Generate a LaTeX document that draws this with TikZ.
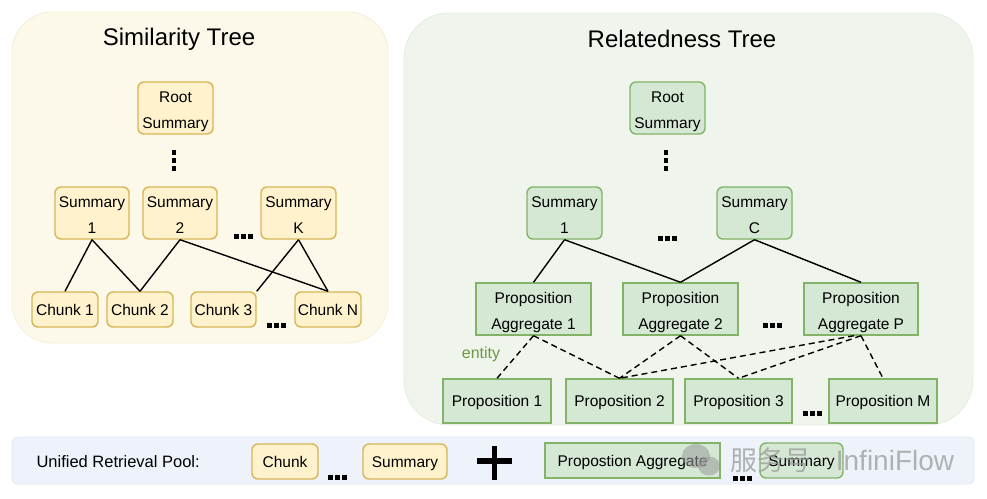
\documentclass[tikz,border=0pt]{standalone}
\usepackage{fontspec}
\setmainfont{Liberation Sans}
\newfontfamily\cjkfont{Noto Sans CJK SC}
\definecolor{yfill}{HTML}{FFF2CC}
\definecolor{ybord}{HTML}{D6B656}
\definecolor{gfill}{HTML}{D5E8D4}
\definecolor{gbord}{HTML}{82B366}
\definecolor{lpanel}{HTML}{FDF9EA}
\definecolor{lpanelb}{HTML}{F6EED6}
\definecolor{rpanel}{HTML}{EFF5EC}
\definecolor{rpanelb}{HTML}{E4EDE0}
\definecolor{pool}{HTML}{EEF3FB}
\definecolor{poolb}{HTML}{E2E9F4}
\definecolor{entitygreen}{HTML}{6A9A40}
\definecolor{wmgray}{HTML}{9A9A9A}
\newcommand\hdotsat[2]{\foreach \k in {-1,0,1} {\fill ({#1+\k*7-2.5},{#2-2.5}) rectangle ++(5,5);}}
\newcommand\vdotsat[2]{\foreach \k in {-1,0,1} {\fill ({#1-2.2},{#2+\k*8-2.5}) rectangle ++(4.4,5);}}
\newcommand\twoline[2]{\rule{0pt}{19pt}#1\\#2\rule[-4pt]{0pt}{4pt}}
\tikzset{
  nodefont/.style={font=\fontsize{15.5}{26}\selectfont},
  base/.style={nodefont, align=center, inner sep=0pt, line width=1.4pt},
  ybox/.style={base, draw=ybord, fill=yfill, rounded corners=6pt},
  gbox/.style={base, draw=gbord, fill=gfill, rounded corners=6pt},
  gsq/.style={base, draw=gbord, fill=gfill},
  oneline/.style={text height=11pt, text depth=0pt},
  tline/.style={line width=1.4pt, draw=black},
  dline/.style={line width=1.4pt, draw=black, dash pattern=on 6pt off 4pt},
  title/.style={font=\fontsize{24}{28}\selectfont},
}
\begin{document}
\begin{tikzpicture}[x=1pt,y=-1pt]
\useasboundingbox (0,0) rectangle (987,498);
% panels
\filldraw[fill=lpanel, draw=lpanelb, line width=0.8pt, rounded corners=40pt] (12,12) rectangle (388,343);
\filldraw[fill=rpanel, draw=rpanelb, line width=0.8pt, rounded corners=45pt] (404,13) rectangle (973,425);
\filldraw[fill=pool, draw=poolb, line width=0.8pt, rounded corners=5pt] (12,437) rectangle (974,484);

% titles
\node[title] (ltitle) at (179,39) {Similarity Tree};
\node[title] (rtitle) at (682,39) {Relatedness Tree};

% left tree
\node[ybox, minimum width=75pt, minimum height=52pt] (lroot) at (175.5,108) {\twoline{Root}{Summary}};
\node[ybox, minimum width=74pt, minimum height=52pt] (ls1) at (92,213) {\twoline{Summary}{1}};
\node[ybox, minimum width=74pt, minimum height=52pt] (ls2) at (180,213) {\twoline{Summary}{2}};
\node[ybox, minimum width=75pt, minimum height=52pt] (lsk) at (298.5,213) {\twoline{Summary}{K}};
\node[ybox, oneline, minimum width=66pt, minimum height=35pt] (lc1) at (65,309.5) {Chunk 1};
\node[ybox, oneline, minimum width=66pt, minimum height=35pt] (lc2) at (140,309.5) {Chunk 2};
\node[ybox, oneline, minimum width=65pt, minimum height=35pt] (lc3) at (223.5,309.5) {Chunk 3};
\node[ybox, oneline, minimum width=66pt, minimum height=35pt] (lcn) at (328,309.5) {Chunk N};
\vdotsat{174}{160}
\hdotsat{243}{236}
\hdotsat{276}{325}
\draw[tline] (ls1.south) -- (lc1.north);
\draw[tline] (ls1.south) -- (lc2.north);
\draw[tline] (ls2.south) -- (lc2.north);
\draw[tline] (ls2.south) -- (lcn.north);
\draw[tline] (lsk.south) -- (lc3.north east);
\draw[tline] (lsk.south) -- (lcn.north);

% right tree
\node[gbox, minimum width=75pt, minimum height=52pt] (rroot) at (667.5,108) {\twoline{Root}{Summary}};
\node[gbox, minimum width=75pt, minimum height=52pt] (rs1) at (564.5,213) {\twoline{Summary}{1}};
\node[gbox, minimum width=75pt, minimum height=52pt] (rsc) at (754.5,213) {\twoline{Summary}{C}};
\node[gsq, minimum width=115pt, minimum height=52pt] (pa1) at (533.5,309) {\twoline{Proposition}{Aggregate 1}};
\node[gsq, minimum width=115pt, minimum height=52pt] (pa2) at (680.5,309) {\twoline{Proposition}{Aggregate 2}};
\node[gsq, minimum width=114pt, minimum height=52pt] (pap) at (861,309) {\twoline{Proposition}{Aggregate P}};
\node[gsq, oneline, minimum width=108pt, minimum height=44pt] (p1) at (497,401) {Proposition 1};
\node[gsq, oneline, minimum width=107pt, minimum height=44pt] (p2) at (619.5,401) {Proposition 2};
\node[gsq, oneline, minimum width=107pt, minimum height=44pt] (p3) at (738.5,401) {Proposition 3};
\node[gsq, oneline, minimum width=108pt, minimum height=44pt] (pm) at (883,401) {Proposition M};
\vdotsat{666}{160}
\hdotsat{667}{238}
\hdotsat{772}{325}
\hdotsat{812}{413}
\draw[tline] (rs1.south) -- (pa1.north);
\draw[tline] (rs1.south) -- (pa2.north);
\draw[tline] (rsc.south) -- (pa2.north);
\draw[tline] (rsc.south) -- (pap.north);
\draw[dline] (pa1.south) -- (p1.north);
\draw[dline] (pa1.south) -- (p2.north);
\draw[dline] (pa2.south) -- (p2.north);
\draw[dline] (pa2.south) -- (p3.north);
\draw[dline] ([xshift=-7pt]pap.south) -- (p2.north);
\draw[dline] (pap.south) -- (p3.north);
\draw[dline] (pap.south) -- (pm.north);
\node[font=\fontsize{16}{18}\selectfont, text=entitygreen] (entity) at (481,354) {entity};

% unified retrieval pool
\node[anchor=west, font=\fontsize{16.5}{20}\selectfont] (pooltext) at (33,462) {Unified Retrieval Pool:};
\node[ybox, oneline, minimum width=66pt, minimum height=35pt] (bchunk) at (285,461.5) {Chunk};
\node[ybox, oneline, minimum width=84pt, minimum height=35pt] (bsum) at (405,461.5) {Summary};
\hdotsat{337}{477}
\draw[line width=5.5pt] (477,461) -- (512,461);
\draw[line width=5.5pt] (494.5,446) -- (494.5,480);
\node[gsq, oneline, minimum width=175pt, minimum height=35pt] (bpa) at (632.5,460.5) {Propostion Aggregate};
\node[gbox, oneline, minimum width=83pt, minimum height=35pt] (bsum2) at (801.5,460.5) {Summary};
\hdotsat{742}{478}

% watermark
\begin{scope}[opacity=0.55]
\fill[wmgray] (696,456) ellipse (14pt and 12pt);
\fill[wmgray] (709,466) ellipse (11pt and 9.5pt);
\end{scope}
\node[text=wmgray, opacity=0.75, font=\cjkfont\fontsize{27}{30}\selectfont] (wm1) at (771,460) {服务号};
\node[text=wmgray, opacity=0.75, font=\fontsize{28}{30}\selectfont] (wm2) at (895,460) {InfiniFlow};
\end{tikzpicture}
\end{document}
